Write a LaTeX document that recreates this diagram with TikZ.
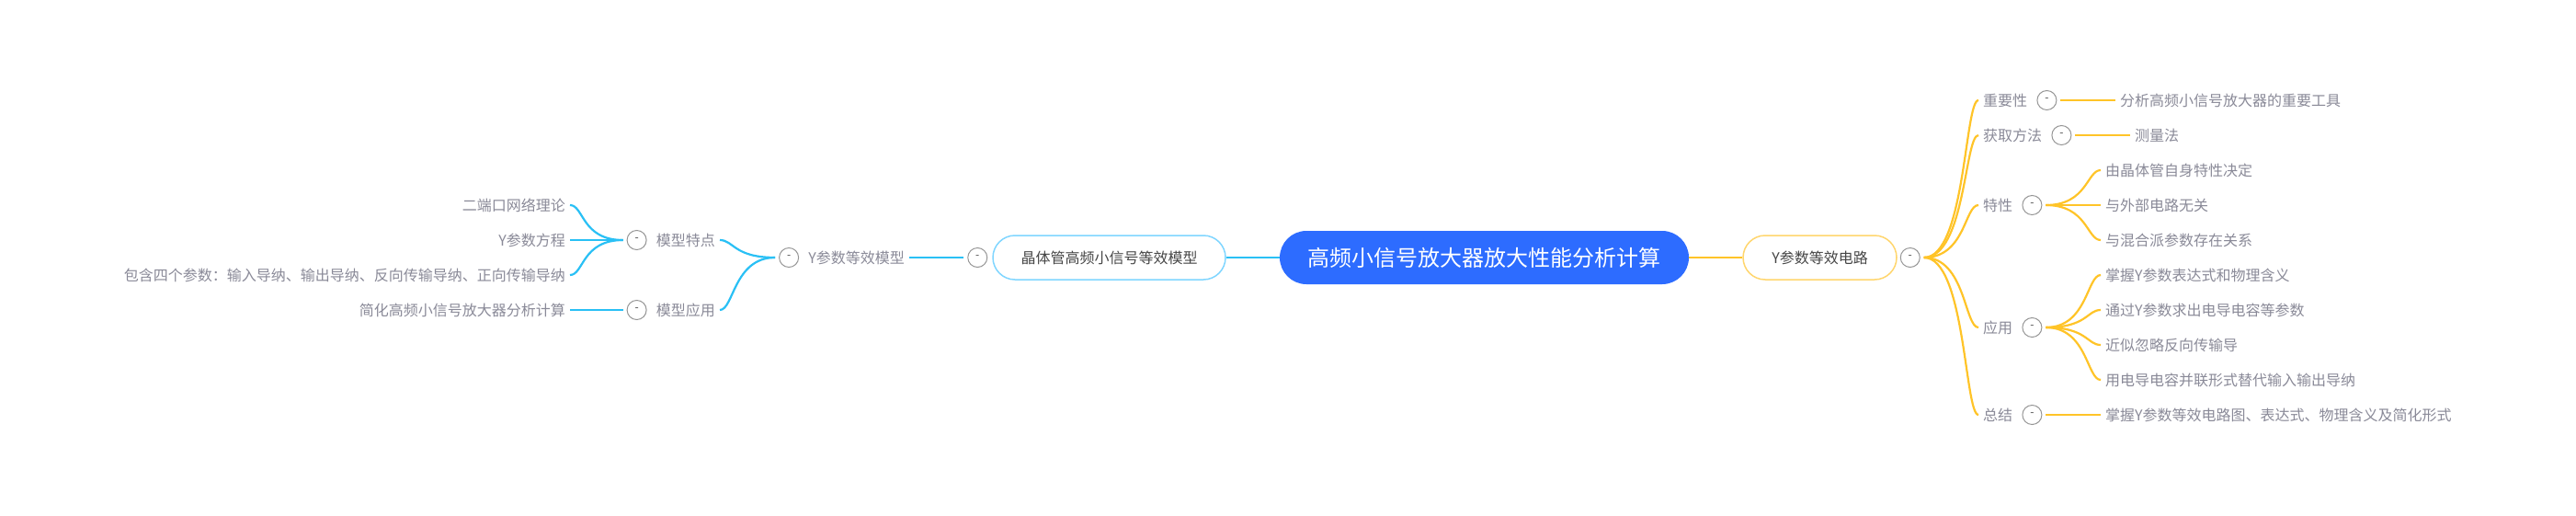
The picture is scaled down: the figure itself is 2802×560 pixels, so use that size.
\documentclass[tikz,border=0pt]{standalone}
\usepackage{fontspec}
\setmainfont{Noto Sans CJK SC}
\usetikzlibrary{positioning}

\definecolor{rootblue}{RGB}{45,108,255}
\definecolor{lineblue}{RGB}{41,192,245}
\definecolor{boxblue}{RGB}{128,214,255}
\definecolor{lineyel}{RGB}{255,196,40}
\definecolor{boxyel}{RGB}{255,214,110}
\definecolor{txtgray}{RGB}{138,138,152}
\definecolor{txtdark}{RGB}{70,70,70}
\definecolor{foldgray}{RGB}{150,150,150}

\tikzset{
  root/.style={rounded corners=29pt, minimum width=445pt, minimum height=58pt,
    fill=rootblue, text=white, font=\fontsize{24pt}{29pt}\selectfont},
  mainL/.style={draw=boxblue, line width=1.5pt, fill=white, rounded corners=24pt,
    minimum width=253pt, minimum height=48pt, text=txtdark,
    font=\fontsize{16pt}{19pt}\selectfont},
  mainR/.style={mainL, draw=boxyel, minimum width=167pt},
  leaf/.style={inner xsep=5pt, inner ysep=2pt, text=txtgray,
    font=\fontsize{16pt}{19pt}\selectfont},
  fold/.style={circle, draw=foldgray, line width=1pt, minimum size=21pt,
    inner sep=0pt, text=txtdark, font=\fontsize{12pt}{14pt}\selectfont},
  bline/.style={draw=lineblue, line width=2.2pt},
  yline/.style={draw=lineyel, line width=2.2pt}
}

\begin{document}
\begin{tikzpicture}[x=1pt, y=-1pt]
  \path[fill=white, use as bounding box] (0,0) rectangle (2802,560);

  % Tema central
  \node[root] (root) at (1614.5,280) {高频小信号放大器放大性能分析计算};

  % Ramo esquerdo: modelo equivalente
  \node[mainL] (jt) at (1206.5,280) {晶体管高频小信号等效模型};
  \node[fold, left=5pt of jt] (cjt) {-};
  \node[leaf, anchor=east] (ym) at (989,280) {Y参数等效模型};
  \node[fold, left=5pt of ym] (cym) {-};
  \node[leaf, anchor=east] (tz) at (783,261) {模型特点};
  \node[fold, left=5pt of tz] (ctz) {-};
  \node[leaf, anchor=east] (yy) at (783,337) {模型应用};
  \node[fold, left=5pt of yy] (cyy) {-};
  \node[leaf, anchor=east] (tz1) at (620,223) {二端口网络理论};
  \node[leaf, anchor=east] (tz2) at (620,261) {Y参数方程};
  \node[leaf, anchor=east] (tz3) at (620,299) {包含四个参数：输入导纳、输出导纳、反向传输导纳、正向传输导纳};
  \node[leaf, anchor=east] (yy1) at (620,337) {简化高频小信号放大器分析计算};

  % Ramo direito: circuito equivalente
  \node[mainR] (yc) at (1979.5,280) {Y参数等效电路};
  \node[fold, right=3pt of yc] (cyc) {-};
  \node[leaf, anchor=west] (zy) at (2152,109) {重要性};
  \node[fold, right=5pt of zy] (czy) {-};
  \node[leaf, anchor=west] (zy1) at (2301,109) {分析高频小信号放大器的重要工具};
  \node[leaf, anchor=west] (hq) at (2152,147) {获取方法};
  \node[fold, right=5pt of hq] (chq) {-};
  \node[leaf, anchor=west] (hq1) at (2317,147) {测量法};
  \node[leaf, anchor=west] (tx) at (2152,223) {特性};
  \node[fold, right=5pt of tx] (ctx) {-};
  \node[leaf, anchor=west] (tx1) at (2285,185) {由晶体管自身特性决定};
  \node[leaf, anchor=west] (tx2) at (2285,223) {与外部电路无关};
  \node[leaf, anchor=west] (tx3) at (2285,261) {与混合派参数存在关系};
  \node[leaf, anchor=west] (ay) at (2152,356) {应用};
  \node[fold, right=5pt of ay] (cay) {-};
  \node[leaf, anchor=west] (ay1) at (2285,299) {掌握Y参数表达式和物理含义};
  \node[leaf, anchor=west] (ay2) at (2285,337) {通过Y参数求出电导电容等参数};
  \node[leaf, anchor=west] (ay3) at (2285,375) {近似忽略反向传输导};
  \node[leaf, anchor=west] (ay4) at (2285,413) {用电导电容并联形式替代输入输出导纳};
  \node[leaf, anchor=west] (zj) at (2152,451) {总结};
  \node[fold, right=5pt of zj] (czj) {-};
  \node[leaf, anchor=west] (zj1) at (2285,451) {掌握Y参数等效电路图、表达式、物理含义及简化形式};

  % Ligacoes da esquerda
  \draw[bline] (root.west) -- (jt.east);
  \draw[bline] ([xshift=-4pt]cjt.west) -- (ym.east);
  \draw[bline] ([xshift=-4pt]cym.west) .. controls +(-45,0) and +(15,0) .. (tz.east);
  \draw[bline] ([xshift=-4pt]cym.west) .. controls +(-45,0) and +(15,0) .. (yy.east);
  \draw[bline] ([xshift=-4pt]ctz.west) .. controls +(-45,0) and +(15,0) .. (tz1.east);
  \draw[bline] ([xshift=-4pt]ctz.west) -- (tz2.east);
  \draw[bline] ([xshift=-4pt]ctz.west) .. controls +(-45,0) and +(15,0) .. (tz3.east);
  \draw[bline] ([xshift=-4pt]cyy.west) -- (yy1.east);

  % Ligacoes da direita
  \draw[yline] (root.east) -- (yc.west);
  \foreach \n in {zy,hq,tx,ay,zj}
    \draw[yline] ([xshift=4pt]cyc.east) .. controls +(45,0) and +(-15,0) .. (\n.west);
  \draw[yline] ([xshift=4pt]czy.east) -- (zy1.west);
  \draw[yline] ([xshift=4pt]chq.east) -- (hq1.west);
  \foreach \n in {tx1,tx2,tx3}
    \draw[yline] ([xshift=4pt]ctx.east) .. controls +(45,0) and +(-15,0) .. (\n.west);
  \foreach \n in {ay1,ay2,ay3,ay4}
    \draw[yline] ([xshift=4pt]cay.east) .. controls +(45,0) and +(-15,0) .. (\n.west);
  \draw[yline] ([xshift=4pt]czj.east) -- (zj1.west);
\end{tikzpicture}
\end{document}
